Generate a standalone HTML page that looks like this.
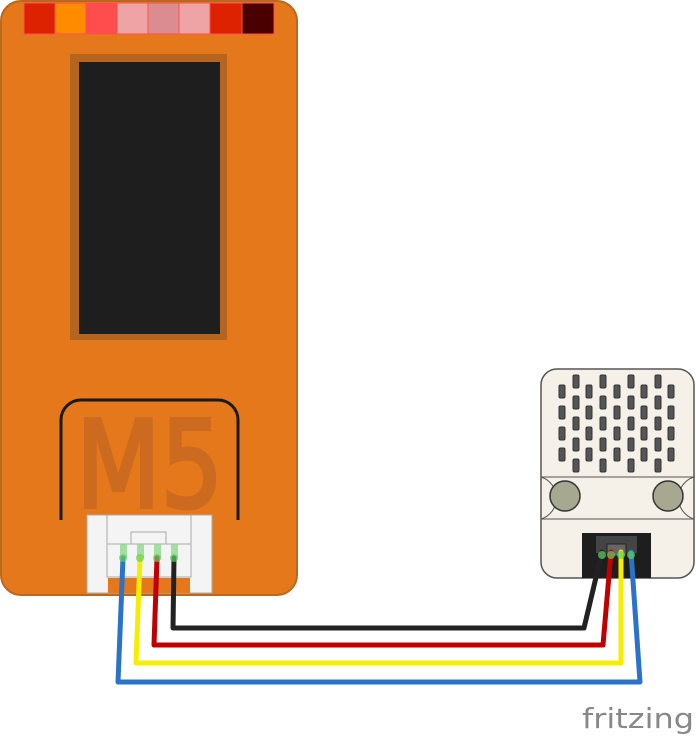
<!DOCTYPE html>
<html><head><meta charset="utf-8"><style>html,body{margin:0;padding:0;background:#fff}svg{display:block}</style></head><body>
<svg width="696" height="736" viewBox="0 0 696 736" xmlns="http://www.w3.org/2000/svg">
<rect x="1" y="1" width="296" height="594" rx="20" fill="#E5781A" stroke="#B8691F" stroke-width="2"/>
<g stroke="#FF5050" stroke-width="1">
<rect x="24" y="3" width="31" height="31" fill="#DC2200"/>
<rect x="55" y="3" width="31" height="31" fill="#FF8C00"/>
<rect x="86" y="3" width="31" height="31" fill="#FF4D4D"/>
<rect x="117" y="3" width="31" height="31" fill="#EEA3A5"/>
<rect x="148" y="3" width="31" height="31" fill="#DB8C90"/>
<rect x="179" y="3" width="31" height="31" fill="#EEA3A5"/>
<rect x="210" y="3" width="32" height="31" fill="#DC2200"/>
<rect x="242" y="3" width="32" height="31" fill="#4A0000"/>
</g>
<rect x="70" y="54" width="157" height="286" fill="#B5651D"/>
<rect x="79" y="62" width="141" height="272" fill="#1E1E1E"/>
<text x="76" y="507" font-family="DejaVu Sans, sans-serif" font-size="120" fill="#CC6A1F" stroke="#CC6A1F" stroke-width="4" textLength="147" lengthAdjust="spacingAndGlyphs">M5</text>
<path d="M61,520 V420 A20,20 0 0 1 81,400 H218 A20,20 0 0 1 238,420 V520" fill="none" stroke="#1a1a1a" stroke-width="3"/>
<rect x="87" y="515" width="125" height="78" fill="#F4F4F4" stroke="#aaa" stroke-width="1"/>
<rect x="107" y="515" width="84" height="62" fill="#F4F4F4" stroke="#aaa" stroke-width="1"/>
<line x1="107" y1="544" x2="191" y2="544" stroke="#aaa"/>
<rect x="131" y="532" width="35" height="12" fill="#F4F4F4" stroke="#aaa" stroke-width="1"/>
<rect x="108" y="578" width="82" height="15" fill="#E5781A"/>
<g fill="#8fd98f" opacity="0.8">
<rect x="120" y="544" width="7" height="14"/><rect x="137" y="544" width="7" height="14"/><rect x="154" y="544" width="7" height="14"/><rect x="171" y="544" width="7" height="14"/>
</g>
<rect x="541" y="369" width="153" height="209" rx="16" fill="#F5F0E8" stroke="#555" stroke-width="1.5"/>
<line x1="541" y1="477" x2="694" y2="477" stroke="#555"/>
<line x1="541" y1="519" x2="694" y2="519" stroke="#555"/>
<path d="M541,477 A22,22 0 0 1 541,519" fill="none" stroke="#555"/>
<path d="M694,477 A22,22 0 0 0 694,519" fill="none" stroke="#555"/>
<circle cx="565" cy="496" r="15" fill="#A6A98F" stroke="#333" stroke-width="1.5"/>
<circle cx="668" cy="496" r="15" fill="#A6A98F" stroke="#333" stroke-width="1.5"/>
<g fill="#555" stroke="#333" stroke-width="1">
<g id="a"><rect x="559" y="385" width="6" height="13" rx="1.5"/><rect x="559" y="406" width="6" height="13" rx="1.5"/><rect x="559" y="427" width="6" height="13" rx="1.5"/><rect x="559" y="448" width="6" height="13" rx="1.5"/></g>
<use href="#a" x="27"/><use href="#a" x="55"/><use href="#a" x="82"/><use href="#a" x="109"/>
<g id="b"><rect x="573" y="375" width="6" height="13" rx="1.5"/><rect x="573" y="396" width="6" height="13" rx="1.5"/><rect x="573" y="417" width="6" height="13" rx="1.5"/><rect x="573" y="438" width="6" height="13" rx="1.5"/><rect x="573" y="459" width="6" height="13" rx="1.5"/></g>
<use href="#b" x="27"/><use href="#b" x="55"/><use href="#b" x="82"/>
</g>
<rect x="582" y="533" width="69" height="45" fill="#1E1E1E"/>
<rect x="596" y="536" width="41" height="17" fill="#444"/>
<rect x="607" y="544" width="19" height="12" fill="#666" stroke="#222"/>
<g fill="none" stroke-width="5" stroke-linejoin="round" stroke-linecap="round">
<polyline points="174,558 173,628 584,628 602,552" stroke="#222"/>
<polyline points="157,558 154,645 603,645 611,552" stroke="#C00000"/>
<polyline points="140,558 136,663 621,663 621,552" stroke="#F5EE00"/>
<polyline points="123,558 118,682 640,682 631,552" stroke="#2A73C9"/>
</g>
<g fill="#5fd35f" opacity="0.7">
<circle cx="123" cy="558" r="4"/><circle cx="140" cy="558" r="4"/><circle cx="157" cy="558" r="4"/><circle cx="174" cy="558" r="4"/>
<circle cx="602" cy="555" r="4"/><circle cx="611" cy="555" r="4"/><circle cx="621" cy="555" r="4"/><circle cx="631" cy="555" r="4"/>
</g>
<text x="582" y="728" font-family="DejaVu Sans, Liberation Sans, sans-serif" font-size="28" fill="#888" textLength="112" lengthAdjust="spacingAndGlyphs">fritzing</text>
</svg>
</body></html>
